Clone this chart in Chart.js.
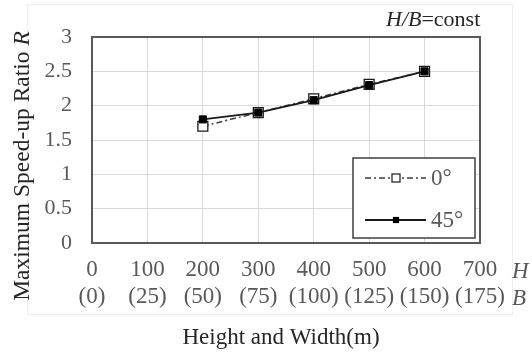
<!DOCTYPE html>
<html>
<head>
<meta charset="utf-8">
<script src="https://cdn.jsdelivr.net/npm/chart.js@4/dist/chart.umd.min.js"></script>
<style>
html,body{margin:0;padding:0;background:#fff;}
#wrap{width:532px;height:354px;position:relative;}
</style>
</head>
<body>
<div id="wrap"><canvas id="c" width="532" height="354"></canvas></div>
<script>
const heights = [200, 300, 400, 500, 600];
const series0 = [1.70, 1.90, 2.10, 2.31, 2.50];
const series45 = [1.80, 1.90, 2.08, 2.30, 2.50];
const seriesNames = ['0°', '45°'];
const xTicksH = ['0', '100', '200', '300', '400', '500', '600', '700'];
const xTicksB = ['(0)', '(25)', '(50)', '(75)', '(100)', '(125)', '(150)', '(175)'];
const yTicks = ['0', '0.5', '1', '1.5', '2', '2.5', '3'];
const xTitle = 'Height and Width(m)';
const yTitle = 'Maximum Speed-up Ratio ';
const yTitleItalic = 'R';

const SERIF = '"Liberation Serif", "Times New Roman", serif';
const GRAY = '#595959';

const toPts = (xs, ys) => xs.map((x, i) => ({x: x, y: ys[i]}));

const decor = {
  id: 'decor',
  beforeDraw(chart) {
    const ctx = chart.ctx;
    ctx.save();
    ctx.strokeStyle = '#eeeeee';
    ctx.lineWidth = 1;
    ctx.strokeRect(27.5, 4.5, 485, 310);
    ctx.restore();
  },
  afterDatasetsDraw(chart) {
    const ctx = chart.ctx;
    const a = chart.chartArea;
    ctx.save();
    // plot frame
    ctx.strokeStyle = GRAY;
    ctx.lineWidth = 2;
    ctx.strokeRect(a.left, a.top, a.right - a.left, a.bottom - a.top);

    // legend box
    const lx = 353, ly = 158, lw = 122, lh = 80;
    ctx.fillStyle = '#fff';
    ctx.fillRect(lx, ly, lw, lh);
    ctx.strokeStyle = '#404040';
    ctx.lineWidth = 1.5;
    ctx.strokeRect(lx, ly, lw, lh);
    const items = chart.data.datasets;
    const rows = [178, 220];
    items.forEach((ds, i) => {
      const y = rows[i];
      ctx.save();
      ctx.strokeStyle = ds.borderColor;
      ctx.lineWidth = ds.borderWidth;
      ctx.setLineDash(ds.borderDash || []);
      ctx.beginPath();
      ctx.moveTo(365, y);
      ctx.lineTo(426, y);
      ctx.stroke();
      ctx.restore();
      const s = i === 0 ? 8 : 5;
      ctx.fillStyle = ds.pointBackgroundColor;
      ctx.strokeStyle = ds.pointBorderColor;
      ctx.lineWidth = 1.2;
      ctx.fillRect(396 - s / 2, y - s / 2, s, s);
      ctx.strokeRect(396 - s / 2, y - s / 2, s, s);
      ctx.fillStyle = GRAY;
      ctx.font = '23px ' + SERIF;
      ctx.textBaseline = 'middle';
      ctx.textAlign = 'left';
      ctx.fillText(ds.label, 431, y + 1);
    });

    // axis titles
    ctx.fillStyle = '#262626';
    ctx.font = '23px ' + SERIF;
    ctx.textAlign = 'center';
    ctx.textBaseline = 'middle';
    ctx.fillText(xTitle, 281, 338);

    ctx.save();
    ctx.translate(23, 166);
    ctx.rotate(-Math.PI / 2);
    ctx.font = '23.5px ' + SERIF;
    const w1 = ctx.measureText(yTitle).width;
    ctx.font = 'italic 23.5px ' + SERIF;
    const w2 = ctx.measureText(yTitleItalic).width;
    const start = -(w1 + w2) / 2;
    ctx.textAlign = 'left';
    ctx.font = '23.5px ' + SERIF;
    ctx.fillText(yTitle, start, 0);
    ctx.font = 'italic 23.5px ' + SERIF;
    ctx.fillText(yTitleItalic, start + w1, 0);
    ctx.restore();

    // H / B axis labels
    ctx.fillStyle = GRAY;
    ctx.font = 'italic 23px ' + SERIF;
    ctx.textAlign = 'left';
    ctx.fillText('H', 512, 272);
    ctx.fillText('B', 512, 299);

    // H/B=const
    ctx.fillStyle = '#262626';
    const parts = [['H/B', true], ['=const', false]];
    let x = 386;
    parts.forEach(([t, it]) => {
      ctx.font = (it ? 'italic ' : '') + '22px ' + SERIF;
      ctx.fillText(t, x, 20);
      x += ctx.measureText(t).width;
    });
    ctx.restore();
  }
};

new Chart(document.getElementById('c'), {
  type: 'scatter',
  data: {
    datasets: [
      {
        label: seriesNames[0],
        data: toPts(heights, series0),
        showLine: true,
        borderColor: '#404040',
        borderWidth: 1.5,
        borderDash: [6, 3, 2, 3],
        pointStyle: 'rect',
        pointRadius: 7,
        pointBackgroundColor: '#ffffff',
        pointBorderColor: '#1a1a1a',
        pointBorderWidth: 1.3,
        order: 2
      },
      {
        label: seriesNames[1],
        data: toPts(heights, series45),
        showLine: true,
        borderColor: '#1a1a1a',
        borderWidth: 1.8,
        pointStyle: 'rect',
        pointRadius: 5,
        pointBackgroundColor: '#000000',
        pointBorderColor: '#000000',
        pointBorderWidth: 1,
        order: 1
      }
    ]
  },
  options: {
    responsive: false,
    animation: false,
    layout: {padding: {left: 0, top: 37, right: 52, bottom: 0}},
    plugins: {legend: {display: false}, tooltip: {enabled: false}},
    scales: {
      x: {
        type: 'linear',
        min: 0, max: 700,
        afterBuildTicks(scale) {
          scale.ticks = xTicksH.map(v => ({value: Number(v)}));
        },
        afterFit(scale) { scale.height = 111; },
        grid: {color: '#d9d9d9', lineWidth: 1, drawTicks: false},
        border: {display: false},
        ticks: {
          padding: 13,
          color: GRAY,
          maxRotation: 0,
          autoSkip: false,
          font: {family: SERIF, size: 23, lineHeight: '27px'},
          callback: (v) => {
            const i = xTicksH.indexOf(String(v));
            return i < 0 ? '' : [xTicksH[i], xTicksB[i]];
          }
        }
      },
      y: {
        type: 'linear',
        min: 0, max: 3,
        afterBuildTicks(scale) {
          scale.ticks = yTicks.map(v => ({value: Number(v)}));
        },
        afterFit(scale) { scale.width = 92; },
        grid: {color: '#d9d9d9', lineWidth: 1, drawTicks: false},
        border: {display: false},
        ticks: {
          padding: 20,
          color: GRAY,
          font: {family: SERIF, size: 22},
          callback: (v) => String(v)
        }
      }
    }
  },
  plugins: [decor]
});
</script>
</body>
</html>
